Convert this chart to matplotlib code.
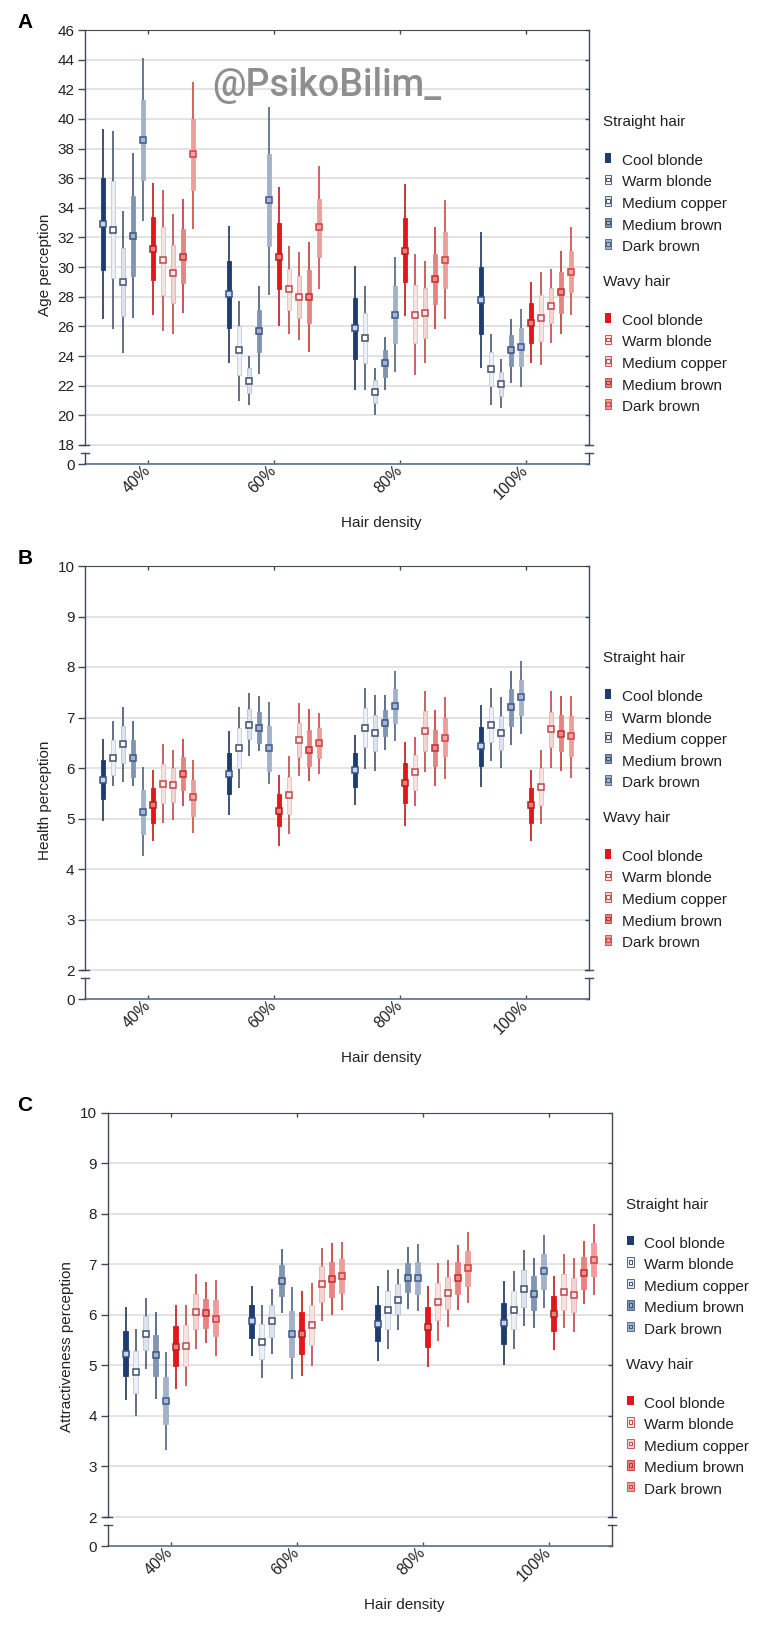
import numpy as np
import matplotlib
matplotlib.use("Agg")
import matplotlib.pyplot as plt
from matplotlib import lines as mlines
from matplotlib.patches import Rectangle

plt.rcParams['font.family'] = ['Liberation Sans', 'DejaVu Sans']

densities = ['40%', '60%', '80%', '100%']
shades = ['Cool blonde', 'Warm blonde', 'Medium copper', 'Medium brown', 'Dark brown']
hair_types = ['Straight hair', 'Wavy hair']

# one row per hair density; columns = 5 straight-hair shades, then 5 wavy-hair shades
age_mean = [[32.9, 32.5, 29.0, 32.1, 38.6, 31.2, 30.5, 29.6, 30.7, 37.6],
            [28.2, 24.4, 22.3, 25.7, 34.5, 30.7, 28.5, 28.0, 28.0, 32.7],
            [25.9, 25.2, 21.6, 23.5, 26.8, 31.1, 26.8, 26.9, 29.2, 30.5],
            [27.8, 23.1, 22.1, 24.4, 24.6, 26.2, 26.6, 27.4, 28.3, 29.7]]
age_box_lo = [[29.8, 29.3, 26.7, 29.4, 35.9, 29.1, 28.1, 27.6, 28.9, 35.2],
              [25.9, 22.7, 21.5, 24.3, 31.4, 28.5, 27.1, 26.6, 26.2, 30.7],
              [23.8, 23.5, 20.8, 22.6, 24.9, 29.0, 24.9, 25.2, 27.5, 28.6],
              [25.5, 22.0, 21.3, 23.3, 23.3, 24.9, 25.0, 26.2, 26.9, 28.3]]
age_box_hi = [[36.0, 35.8, 31.3, 34.8, 41.3, 33.4, 32.7, 31.5, 32.6, 40.0],
              [30.4, 26.0, 23.2, 27.1, 37.6, 33.0, 29.9, 29.4, 29.8, 34.6],
              [27.9, 26.9, 22.4, 24.4, 28.7, 33.3, 28.8, 28.6, 30.9, 32.4],
              [30.0, 24.3, 22.9, 25.4, 25.9, 27.6, 28.1, 28.6, 29.7, 31.1]]
age_whisk_lo = [[26.5, 25.8, 24.2, 26.6, 33.1, 26.8, 25.7, 25.5, 26.9, 32.6],
                [23.5, 21.0, 20.7, 22.8, 28.1, 26.0, 25.5, 25.1, 24.3, 28.5],
                [21.7, 21.7, 20.0, 21.7, 22.9, 26.7, 22.7, 23.5, 25.8, 26.5],
                [23.2, 20.7, 20.5, 22.2, 21.9, 23.5, 23.4, 24.9, 25.5, 26.8]]
age_whisk_hi = [[39.3, 39.2, 33.8, 37.7, 44.1, 35.7, 35.2, 33.6, 34.6, 42.5],
                [32.8, 27.7, 24.0, 28.7, 40.8, 35.4, 31.4, 31.0, 31.7, 36.8],
                [30.1, 28.7, 23.2, 25.3, 30.7, 35.6, 30.9, 30.4, 32.7, 34.5],
                [32.4, 25.5, 23.8, 26.5, 27.2, 29.0, 29.7, 29.9, 31.1, 32.7]]

health_mean = [[5.77, 6.19, 6.47, 6.19, 5.13, 5.26, 5.69, 5.66, 5.89, 5.43],
               [5.89, 6.40, 6.86, 6.79, 6.39, 5.15, 5.46, 6.56, 6.36, 6.49],
               [5.96, 6.80, 6.70, 6.90, 7.23, 5.70, 5.93, 6.73, 6.39, 6.60],
               [6.43, 6.86, 6.70, 7.20, 7.40, 5.26, 5.63, 6.77, 6.68, 6.63]]
health_box_lo = [[5.38, 5.87, 6.10, 5.83, 4.70, 4.92, 5.31, 5.32, 5.56, 5.05],
                 [5.48, 6.00, 6.58, 6.50, 5.95, 4.85, 5.09, 6.21, 6.04, 6.19],
                 [5.63, 6.42, 6.33, 6.64, 6.89, 5.30, 5.57, 6.33, 6.03, 6.23],
                 [6.04, 6.51, 6.36, 6.83, 7.04, 4.92, 5.27, 6.41, 6.33, 6.24]]
health_box_hi = [[6.15, 6.55, 6.83, 6.56, 5.56, 5.60, 6.07, 6.00, 6.22, 5.77],
                 [6.30, 6.79, 7.16, 7.10, 6.83, 5.49, 5.83, 6.89, 6.75, 6.80],
                 [6.29, 7.18, 7.05, 7.15, 7.56, 6.09, 6.26, 7.12, 6.75, 6.99],
                 [6.82, 7.20, 7.03, 7.56, 7.74, 5.60, 6.00, 7.11, 7.05, 7.03]]
health_whisk_lo = [[4.95, 5.65, 5.72, 5.65, 4.25, 4.56, 4.92, 4.98, 5.24, 4.71],
                   [5.07, 5.61, 6.24, 6.34, 5.68, 4.45, 4.70, 5.85, 5.75, 5.89],
                   [5.27, 5.99, 5.94, 6.35, 6.54, 4.86, 5.24, 5.92, 5.65, 5.78],
                   [5.62, 6.14, 6.00, 6.46, 6.67, 4.56, 4.90, 6.00, 5.95, 5.81]]
health_whisk_hi = [[6.58, 6.94, 7.21, 6.94, 6.02, 5.97, 6.48, 6.36, 6.57, 6.16],
                   [6.74, 7.20, 7.48, 7.43, 7.30, 5.87, 6.24, 7.28, 7.16, 7.09],
                   [6.66, 7.59, 7.45, 7.45, 7.92, 6.52, 6.62, 7.53, 7.14, 7.40],
                   [7.24, 7.58, 7.40, 7.93, 8.11, 5.97, 6.36, 7.52, 7.43, 7.43]]

attr_mean = [[5.23, 4.87, 5.63, 5.20, 4.30, 5.36, 5.39, 6.06, 6.03, 5.92],
             [5.88, 5.47, 5.88, 6.66, 5.63, 5.63, 5.80, 6.60, 6.70, 6.77],
             [5.82, 6.09, 6.30, 6.73, 6.73, 5.76, 6.26, 6.43, 6.73, 6.92],
             [5.83, 6.09, 6.52, 6.42, 6.86, 6.02, 6.46, 6.39, 6.83, 7.09]]
attr_box_lo = [[4.78, 4.45, 5.30, 4.78, 3.83, 4.98, 4.99, 5.72, 5.74, 5.59],
               [5.54, 5.13, 5.56, 6.37, 5.16, 5.22, 5.41, 6.26, 6.35, 6.44],
               [5.48, 5.71, 6.01, 6.45, 6.42, 5.37, 5.89, 6.11, 6.42, 6.57],
               [5.42, 5.71, 6.16, 6.09, 6.52, 5.68, 6.10, 6.06, 6.52, 6.77]]
attr_box_hi = [[5.67, 5.28, 5.97, 5.61, 4.77, 5.77, 5.79, 6.41, 6.32, 6.30],
               [6.20, 5.82, 6.19, 6.99, 6.08, 6.05, 6.20, 6.96, 7.05, 7.10],
               [6.19, 6.47, 6.60, 7.03, 7.05, 6.15, 6.62, 6.75, 7.05, 7.26],
               [6.23, 6.47, 6.88, 6.77, 7.21, 6.38, 6.81, 6.72, 7.14, 7.43]]
attr_whisk_lo = [[4.31, 3.99, 4.92, 4.34, 3.33, 4.54, 4.59, 5.32, 5.45, 5.18],
                 [5.18, 4.74, 5.23, 6.04, 4.73, 4.78, 4.98, 5.88, 5.99, 6.10],
                 [5.08, 5.32, 5.69, 6.12, 6.07, 4.97, 5.49, 5.76, 6.09, 6.24],
                 [5.00, 5.32, 5.78, 5.73, 6.14, 5.30, 5.73, 5.66, 6.21, 6.40]]
attr_whisk_hi = [[6.15, 5.72, 6.34, 6.06, 5.27, 6.20, 6.20, 6.80, 6.64, 6.68],
                 [6.56, 6.20, 6.51, 7.31, 6.55, 6.48, 6.62, 7.33, 7.42, 7.44],
                 [6.57, 6.88, 6.91, 7.34, 7.40, 6.56, 7.03, 7.09, 7.38, 7.63],
                 [6.66, 6.87, 7.28, 7.12, 7.57, 6.77, 7.21, 7.12, 7.46, 7.79]]

# styles: 5 straight (blue) then 5 wavy (red)
box_colors = ['#1f3c6e', '#edf0f5', '#dde3ec', '#8195b2', '#a3b2c8',
              '#e3161b', '#f8e3e3', '#f4d3d3', '#e98282', '#ef9c9c']
box_edges = ['#1f3c6e', '#c3cbd8', '#b9c3d2', '#8195b2', '#a3b2c8',
             '#e3161b', '#e9bcbc', '#e6b2b2', '#e98282', '#ef9c9c']
whisker_colors = ['#2f4566', '#56657a', '#56657a', '#52647f', '#5d6f89',
                  '#c8282b', '#c65656', '#c65656', '#c84646', '#d05656']
marker_edges = ['#34508a', '#3f5270', '#3f5270', '#3c5580', '#3d5a8c',
                '#b22020', '#c04848', '#c04848', '#c03030', '#d04040']
marker_faces = ['#c9d3e3', '#ffffff', '#f4f6fa', '#a5b4cb', '#a8b8d2',
                '#f07a7a', '#fdf3f3', '#fbeaea', '#f08a8a', '#f5a5a5']
spine_color = '#3f4a58'

W, H = 770, 1626
fig = plt.figure(figsize=(W / 100, H / 100), dpi=100)

step = 10 / 126  # spacing between neighbouring boxes


def draw_panel(left, top, bottom, mean, blo, bhi, wlo, whi, ticks, ylabel, letter, ylab_x):
    ax = fig.add_axes([left / W, 1 - bottom / H, 504 / W, (bottom - top) / H])
    mean, blo, bhi, wlo, whi = [np.array(a) for a in (mean, blo, bhi, wlo, whi)]
    gap_px = 19 if ticks[0] == 18 else 29
    ppu = (bottom - top - gap_px) / (ticks[-1] - ticks[0])
    ymin = ticks[0] - gap_px / ppu
    ax.set_xlim(-0.5, 3.5)
    ax.set_ylim(ymin, ticks[-1])

    x0 = np.arange(len(densities))
    for i in range(10):
        xs = x0 + (i - 4.5) * step
        ax.vlines(xs, wlo[:, i], whi[:, i], color=whisker_colors[i], lw=1.3, zorder=2)
        ax.bar(xs, bhi[:, i] - blo[:, i], bottom=blo[:, i], width=0.038,
               color=box_colors[i], edgecolor=box_edges[i], linewidth=0.6, zorder=3)
        ax.plot(xs, mean[:, i], ls='none', marker='s', ms=4.4, mfc=marker_faces[i],
                mec=marker_edges[i], mew=1.1, zorder=4)

    ax.set_yticks([ymin] + list(ticks))
    ax.set_yticklabels(['0'] + [str(t) for t in ticks], fontsize=11, color='#222222')
    ax.set_xticks(x0)
    ax.set_xticklabels(densities, rotation=45, ha='right', va='center',
                       rotation_mode='anchor', fontsize=11.5, color='#222222')
    ax.grid(axis='y', color='#dedede', lw=1.2)
    ax.set_axisbelow(True)
    ax.tick_params(axis='y', direction='out', length=5, width=1, color=spine_color,
                   pad=2.5, right=True)
    ax.tick_params(axis='x', direction='in', length=3, width=1, color=spine_color,
                   pad=3, top=True)
    for t in ax.yaxis.get_major_ticks():
        t.tick2line.set_marker(mlines.TICKLEFT)
        t.tick2line.set_markersize(3)

    ax.set_ylabel(ylabel, fontsize=11, color='#222222')
    ax.yaxis.set_label_coords(ylab_x, 0.46)
    ax.set_xlabel('Hair density', fontsize=11, color='#222222')
    ax.xaxis.set_label_coords(0.588, -0.119)

    # broken left / right spines
    for side in ('left', 'right'):
        ax.spines[side].set_visible(False)
    ax.spines['top'].set_color(spine_color)
    ax.spines['bottom'].set_color('#58718e')
    ax.spines['bottom'].set_linewidth(1.2)
    yb_hi = (ticks[0] - ymin) / (ticks[-1] - ymin)
    yb_lo = yb_hi - 8 / (bottom - top)
    dx = 4 / 504
    for xs in (0, 1):
        ax.plot([xs, xs], [yb_hi, 1], transform=ax.transAxes, color=spine_color,
                lw=1, clip_on=False, zorder=5)
        ax.plot([xs, xs], [0, yb_lo], transform=ax.transAxes, color=spine_color,
                lw=1, clip_on=False, zorder=5)
        for yb in (yb_hi, yb_lo):
            ax.plot([xs - dx, xs + dx], [yb, yb], transform=ax.transAxes,
                    color=spine_color, lw=1, clip_on=False, zorder=5)

    fig.text(25 / W, 1 - (top - 7) / H, letter, fontsize=15, fontweight='bold',
             ha='center', va='center')

    # legend block on the right
    xr = left + 504
    for h, hair in enumerate(hair_types):
        ty = top + 92 + h * 160
        fig.text((xr + 14) / W, 1 - ty / H, hair, fontsize=11, ha='left', va='center',
                 color='#222222')
        for k, shade in enumerate(shades):
            idx = h * 5 + k
            ey = top + 131 + h * 160 + k * 21.5
            fig.text((xr + 33) / W, 1 - ey / H, shade, fontsize=11, ha='left',
                     va='center', color='#222222')
            gx, gy = xr + 19, ey - 3
            if k == 0:
                fig.add_artist(Rectangle(((gx - 3.4) / W, 1 - (gy + 4.8) / H), 6.8 / W, 9.6 / H,
                                         transform=fig.transFigure, facecolor=box_colors[idx],
                                         edgecolor='none'))
            else:
                fig.add_artist(Rectangle(((gx - 3.4) / W, 1 - (gy + 4.8) / H), 6.8 / W, 9.6 / H,
                                         transform=fig.transFigure, facecolor=box_colors[idx],
                                         edgecolor=whisker_colors[idx], linewidth=0.7))
                fig.add_artist(Rectangle(((gx - 1.8) / W, 1 - (gy + 1.8) / H), 3.6 / W, 3.6 / H,
                                         transform=fig.transFigure, facecolor=marker_faces[idx],
                                         edgecolor=marker_edges[idx], linewidth=0.7))
    return ax


draw_panel(85, 30, 464, age_mean, age_box_lo, age_box_hi, age_whisk_lo, age_whisk_hi,
           list(range(18, 47, 2)), 'Age perception', 'A', -0.065)
draw_panel(85, 566, 999, health_mean, health_box_lo, health_box_hi, health_whisk_lo,
           health_whisk_hi, list(range(2, 11)), 'Health perception', 'B', -0.065)
draw_panel(107.5, 1112.6, 1546, attr_mean, attr_box_lo, attr_box_hi, attr_whisk_lo,
           attr_whisk_hi, list(range(2, 11)), 'Attractiveness perception', 'C', -0.066)

fig.text(212 / W, 1 - 86 / H, '@PsikoBilim_', fontsize=27, color='#8e8e8e',
         family=['Roboto', 'DejaVu Sans'], fontweight='medium', ha='left', va='center')

fig.savefig('out.png', dpi=100)
